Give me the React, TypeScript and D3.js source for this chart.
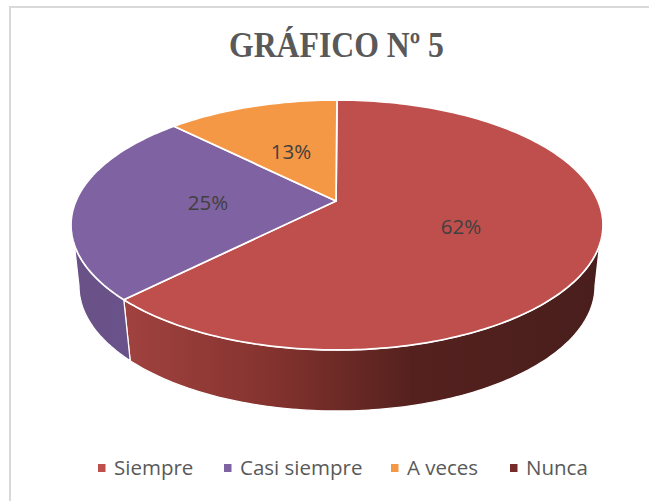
import React from "react";
import * as d3 from "d3";

const categories = ["Siempre", "Casi siempre", "A veces", "Nunca"];
const percentLabels = [62, 25, 13, 0];
// Slice sweep as seen on the tilted ellipse (share of the rim)
const visibleShares = [64.8, 24.7, 10.5, 0];
const colors = ["#BE4F4C", "#7F62A1", "#F59845", "#772C2A"];
const legendTextX = [114, 240, 407, 526];
const labelPos: [number, number][] = [[461, 227], [208, 203], [291, 152]];

const W = 649, H = 501;
const top = { cx: 337, cy: 225, rx: 266, ry: 125 };
const bottom = { cx: 337, cy: 286, rx: 258, ry: 125 };
const apex: [number, number] = [336, 201];
const font = "'Open Sans', sans-serif";

const pt = (e: typeof top, a: number): [number, number] => [e.cx + e.rx * Math.sin(a), e.cy - e.ry * Math.cos(a)];

function sample(e: typeof top, a0: number, a1: number) {
  const n = Math.max(2, Math.ceil(Math.abs(a1 - a0) / 0.02));
  return d3.range(n + 1).map((i) => pt(e, a0 + ((a1 - a0) * i) / n));
}

export default function App() {
  const arcs = d3.pie<number>().sort(null)(visibleShares);
  const line = d3.line();
  const rimMargin = 0.16; // the wall starts a little below the widest point of the rim
  const walls = arcs
    .map((a, i) => {
      const s = Math.max(a.startAngle, Math.PI / 2);
      const e = Math.min(a.endAngle, 1.5 * Math.PI);
      if (e <= s) return null;
      const ts = Math.max(a.startAngle, Math.PI / 2 + rimMargin);
      const te = Math.min(a.endAngle, 1.5 * Math.PI - rimMargin);
      const pts = [...sample(top, ts, te), ...sample(bottom, e, s)];
      return { i, d: line(pts as [number, number][]) + "Z" };
    })
    .filter(Boolean) as { i: number; d: string }[];

  return (
    <svg width={W} height={H} style={{ position: "fixed", left: 0, top: 0, display: "block", background: "#fff" }}>
      <defs>
        <linearGradient id="wall0" gradientUnits="userSpaceOnUse" x1={124} x2={603} y1={0} y2={0}>
          <stop offset="0" stopColor="#A1423F" />
          <stop offset="0.3" stopColor="#85332F" />
          <stop offset="0.6" stopColor="#55211E" />
          <stop offset="1" stopColor="#481E1C" />
        </linearGradient>
        <linearGradient id="wall1" gradientUnits="userSpaceOnUse" x1={72} x2={130} y1={0} y2={0}>
          <stop offset="0" stopColor="#6A5287" />
          <stop offset="1" stopColor="#69528A" />
        </linearGradient>
      </defs>
      <path d="M649 7H10V501" fill="none" stroke="#D9D9D9" strokeWidth={2} />
      <text x={336.5} y={57} textAnchor="middle" fontFamily="'Liberation Serif', serif" fontWeight={700} fontSize={36} fill="#595959" textLength={215} lengthAdjust="spacingAndGlyphs">
        GRÁFICO Nº 5
      </text>
      {walls.map((w) => (
        <path key={w.i} d={w.d} fill={`url(#wall${w.i})`} stroke="#fff" strokeWidth={1.25} />
      ))}
      {arcs.map((a, i) =>
        a.value > 0 ? (
          <path
            key={i}
            d={line([apex, ...sample(top, a.startAngle, a.endAngle)] as [number, number][]) + "Z"}
            fill={colors[i]}
            stroke="#fff"
            strokeWidth={1.75}
            strokeLinejoin="round"
          />
        ) : null
      )}
      {labelPos.map((p, i) => (
        <text key={i} x={p[0]} y={p[1]} dy="0.35em" textAnchor="middle" fontFamily={font} fontSize={20.5} fill="#404040">
          {percentLabels[i]}%
        </text>
      ))}
      {categories.map((c, i) => (
        <g key={c}>
          <rect x={legendTextX[i] - 16} y={464} width={7.5} height={8} fill={colors[i]} />
          <text x={legendTextX[i]} y={475} fontFamily={font} fontSize={20.5} fill="#595959">
            {c}
          </text>
        </g>
      ))}
    </svg>
  );
}
